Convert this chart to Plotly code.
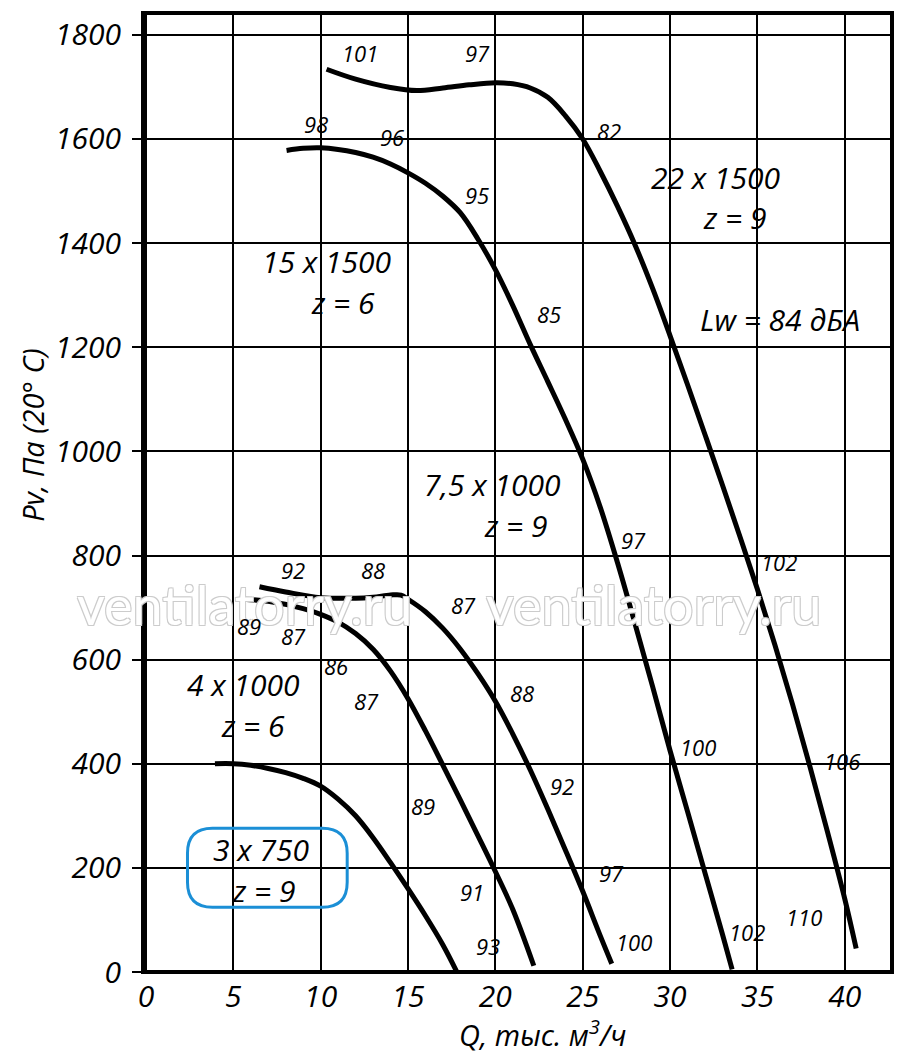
import plotly.graph_objects as go

# ---------------- data ----------------
q_3x750 = [3.95, 5, 6, 7, 8, 9, 10, 11, 12, 13, 14, 15, 16, 17, 17.8]
p_3x750 = [400, 400, 397, 391, 383, 372, 357, 332, 300, 258, 210, 160, 108, 52, 0]

q_4x1000 = [5.55, 7, 9, 10, 11, 12, 13, 14, 15, 16, 17, 18, 19, 20, 21, 22.2]
p_4x1000 = [716, 712, 698, 687, 672, 650, 620, 578, 525, 463, 397, 330, 262, 193, 120, 12]

q_75x1000 = [6.5, 8, 10, 12, 13, 14, 14.6, 15, 16, 17, 18, 19, 20, 21, 22, 23, 24, 25, 26, 26.66]
p_75x1000 = [740, 730, 719, 718, 720, 724, 724, 716, 692, 660, 620, 573, 520, 457, 388, 313, 235, 155, 70, 16]

q_15x1500 = [8.05, 9, 10, 11, 12, 13, 14, 15, 16, 17, 18, 19, 20, 21, 22, 23, 24, 25, 26, 27, 28, 29, 30, 31, 32, 33, 33.55]
p_15x1500 = [1578, 1582, 1583, 1580, 1574, 1565, 1552, 1535, 1515, 1490, 1458, 1408, 1349, 1280, 1205, 1134, 1062, 985, 893, 785, 668, 548, 425, 308, 190, 72, 5]

q_22x1500 = [10.34, 12, 14, 15.5, 17, 18.5, 20, 21, 22, 23, 24, 25, 26, 27, 28, 29, 30, 31, 32, 33, 34, 35, 36, 37, 38, 39, 40, 40.65]
p_22x1500 = [1734, 1715, 1699, 1693, 1698, 1704, 1708, 1706, 1698, 1680, 1645, 1600, 1538, 1470, 1396, 1313, 1222, 1128, 1032, 935, 836, 735, 628, 515, 395, 270, 140, 45]

x_ticks = [0, 5, 10, 15, 20, 25, 30, 35, 40]
y_ticks = [0, 200, 400, 600, 800, 1000, 1200, 1400, 1600, 1800]

# noise level labels (x, y, text)
lw_x = [12.25, 18.95, 9.73, 14.08, 26.49, 18.95, 23.07, 27.88, 36.24, 8.41, 12.99, 18.2, 5.89, 8.47,
        10.87, 12.65, 21.52, 31.6, 39.85, 23.82, 15.88, 26.62, 18.66, 34.41, 37.68, 19.58, 27.94]
lw_y = [1766, 1766, 1629, 1604, 1616, 1493, 1264, 830, 788, 772, 772, 705, 664, 645,
        588, 520, 536, 432, 405, 357, 318, 191, 153, 76, 105, 49, 57]
lw_t = ["101", "97", "98", "96", "82", "95", "85", "97", "102", "92", "88", "87", "89", "87",
        "86", "87", "88", "100", "106", "92", "89", "97", "91", "102", "110", "93", "100"]

# fan model labels
lab_x = [10.38, 11.27, 32.63, 33.72, 36.3, 19.86, 21.18, 5.6, 6.12, 6.63, 6.75]
lab_y = [1364, 1285, 1527, 1449, 1253, 937, 858, 553, 474, 236, 157]
lab_t = ["15 x 1500", "z = 6", "22 x 1500", "z = 9", "Lw = 84 дБА", "7,5 x 1000", "z = 9",
         "4 x 1000", "z = 6", "3 x 750", "z = 9"]

FONT = "Open Sans"

fig = go.Figure()
for q, p in [(q_3x750, p_3x750), (q_4x1000, p_4x1000), (q_75x1000, p_75x1000),
             (q_15x1500, p_15x1500), (q_22x1500, p_22x1500)]:
    fig.add_trace(go.Scatter(x=q, y=p, mode="lines",
                             line=dict(color="black", width=5, shape="spline", smoothing=1.0),
                             showlegend=False, hoverinfo="skip"))

ann = []
# watermark (outlined text)
for x in [5.62, 29.03]:
    ann.append(dict(x=x, y=705, text="ventilatorry.ru", showarrow=False, xref="x", yref="y",
                    xanchor="center", yanchor="middle",
                    font=dict(family="Lato", size=54, color="white", weight=400,
                              shadow="-1px -1px 0 #cccccc, 1px -1px 0 #cccccc, -1px 1px 0 #cccccc, 1px 1px 0 #cccccc")))
for x, y, t in zip(lw_x, lw_y, lw_t):
    ann.append(dict(x=x, y=y, text=t, showarrow=False, xref="x", yref="y",
                    font=dict(family=FONT, size=22, color="black", style="italic")))
for x, y, t in zip(lab_x, lab_y, lab_t):
    ann.append(dict(x=x, y=y, text=t, showarrow=False, xref="x", yref="y",
                    font=dict(family=FONT, size=30, color="black", style="italic")))
# axis titles
ann.append(dict(x=0.534, y=-0.0636, xref="paper", yref="paper", text="Q, тыс. м<sup>3</sup>/ч",
                xanchor="center", yanchor="middle",
                showarrow=False, font=dict(family=FONT, size=29, color="black", style="italic")))
ann.append(dict(x=-0.147, y=0.56, xref="paper", yref="paper", text="Pv, Па (20° C)", textangle=-90,
                xanchor="center", yanchor="middle",
                showarrow=False, font=dict(family=FONT, size=29, color="black", style="italic")))

# rounded box around "3 x 750"
bx0, bx1, by0, by1 = 2.38, 11.52, 124.5, 276
rx, ry = 1.43, 48
box_path = (f"M {bx0+rx},{by1} L {bx1-rx},{by1} Q {bx1},{by1} {bx1},{by1-ry} "
            f"L {bx1},{by0+ry} Q {bx1},{by0} {bx1-rx},{by0} L {bx0+rx},{by0} "
            f"Q {bx0},{by0} {bx0},{by0+ry} L {bx0},{by1-ry} Q {bx0},{by1} {bx0+rx},{by1} Z")

shapes = [
    dict(type="path", path=box_path, xref="x", yref="y", line=dict(color="#1b8fd6", width=3)),
    dict(type="rect", xref="paper", yref="paper", x0=0, x1=1, y0=0, y1=1,
         line=dict(color="black", width=4), layer="above"),
]

fig.update_layout(
    width=900, height=1055,
    margin=dict(l=143, r=8, t=13, b=83),
    paper_bgcolor="white", plot_bgcolor="white",
    annotations=ann, shapes=shapes,
    xaxis=dict(range=[-0.166, 42.70], tickvals=x_ticks, showgrid=True, gridcolor="black", gridwidth=2,
               zeroline=False, showline=False, ticks="", ticklabelstandoff=4,
               tickfont=dict(family=FONT, size=30, color="black", style="italic")),
    yaxis=dict(range=[0, 1842], tickvals=y_ticks, showgrid=True, gridcolor="black", gridwidth=2,
               zeroline=False, showline=False, ticks="outside", ticklen=10, tickwidth=2, tickcolor="black",
               ticklabelstandoff=5,
               tickfont=dict(family=FONT, size=30, color="black", style="italic")),
)

fig.write_html("out.html", config={"displayModeBar": False},
               post_script="document.body.style.margin='0';")
